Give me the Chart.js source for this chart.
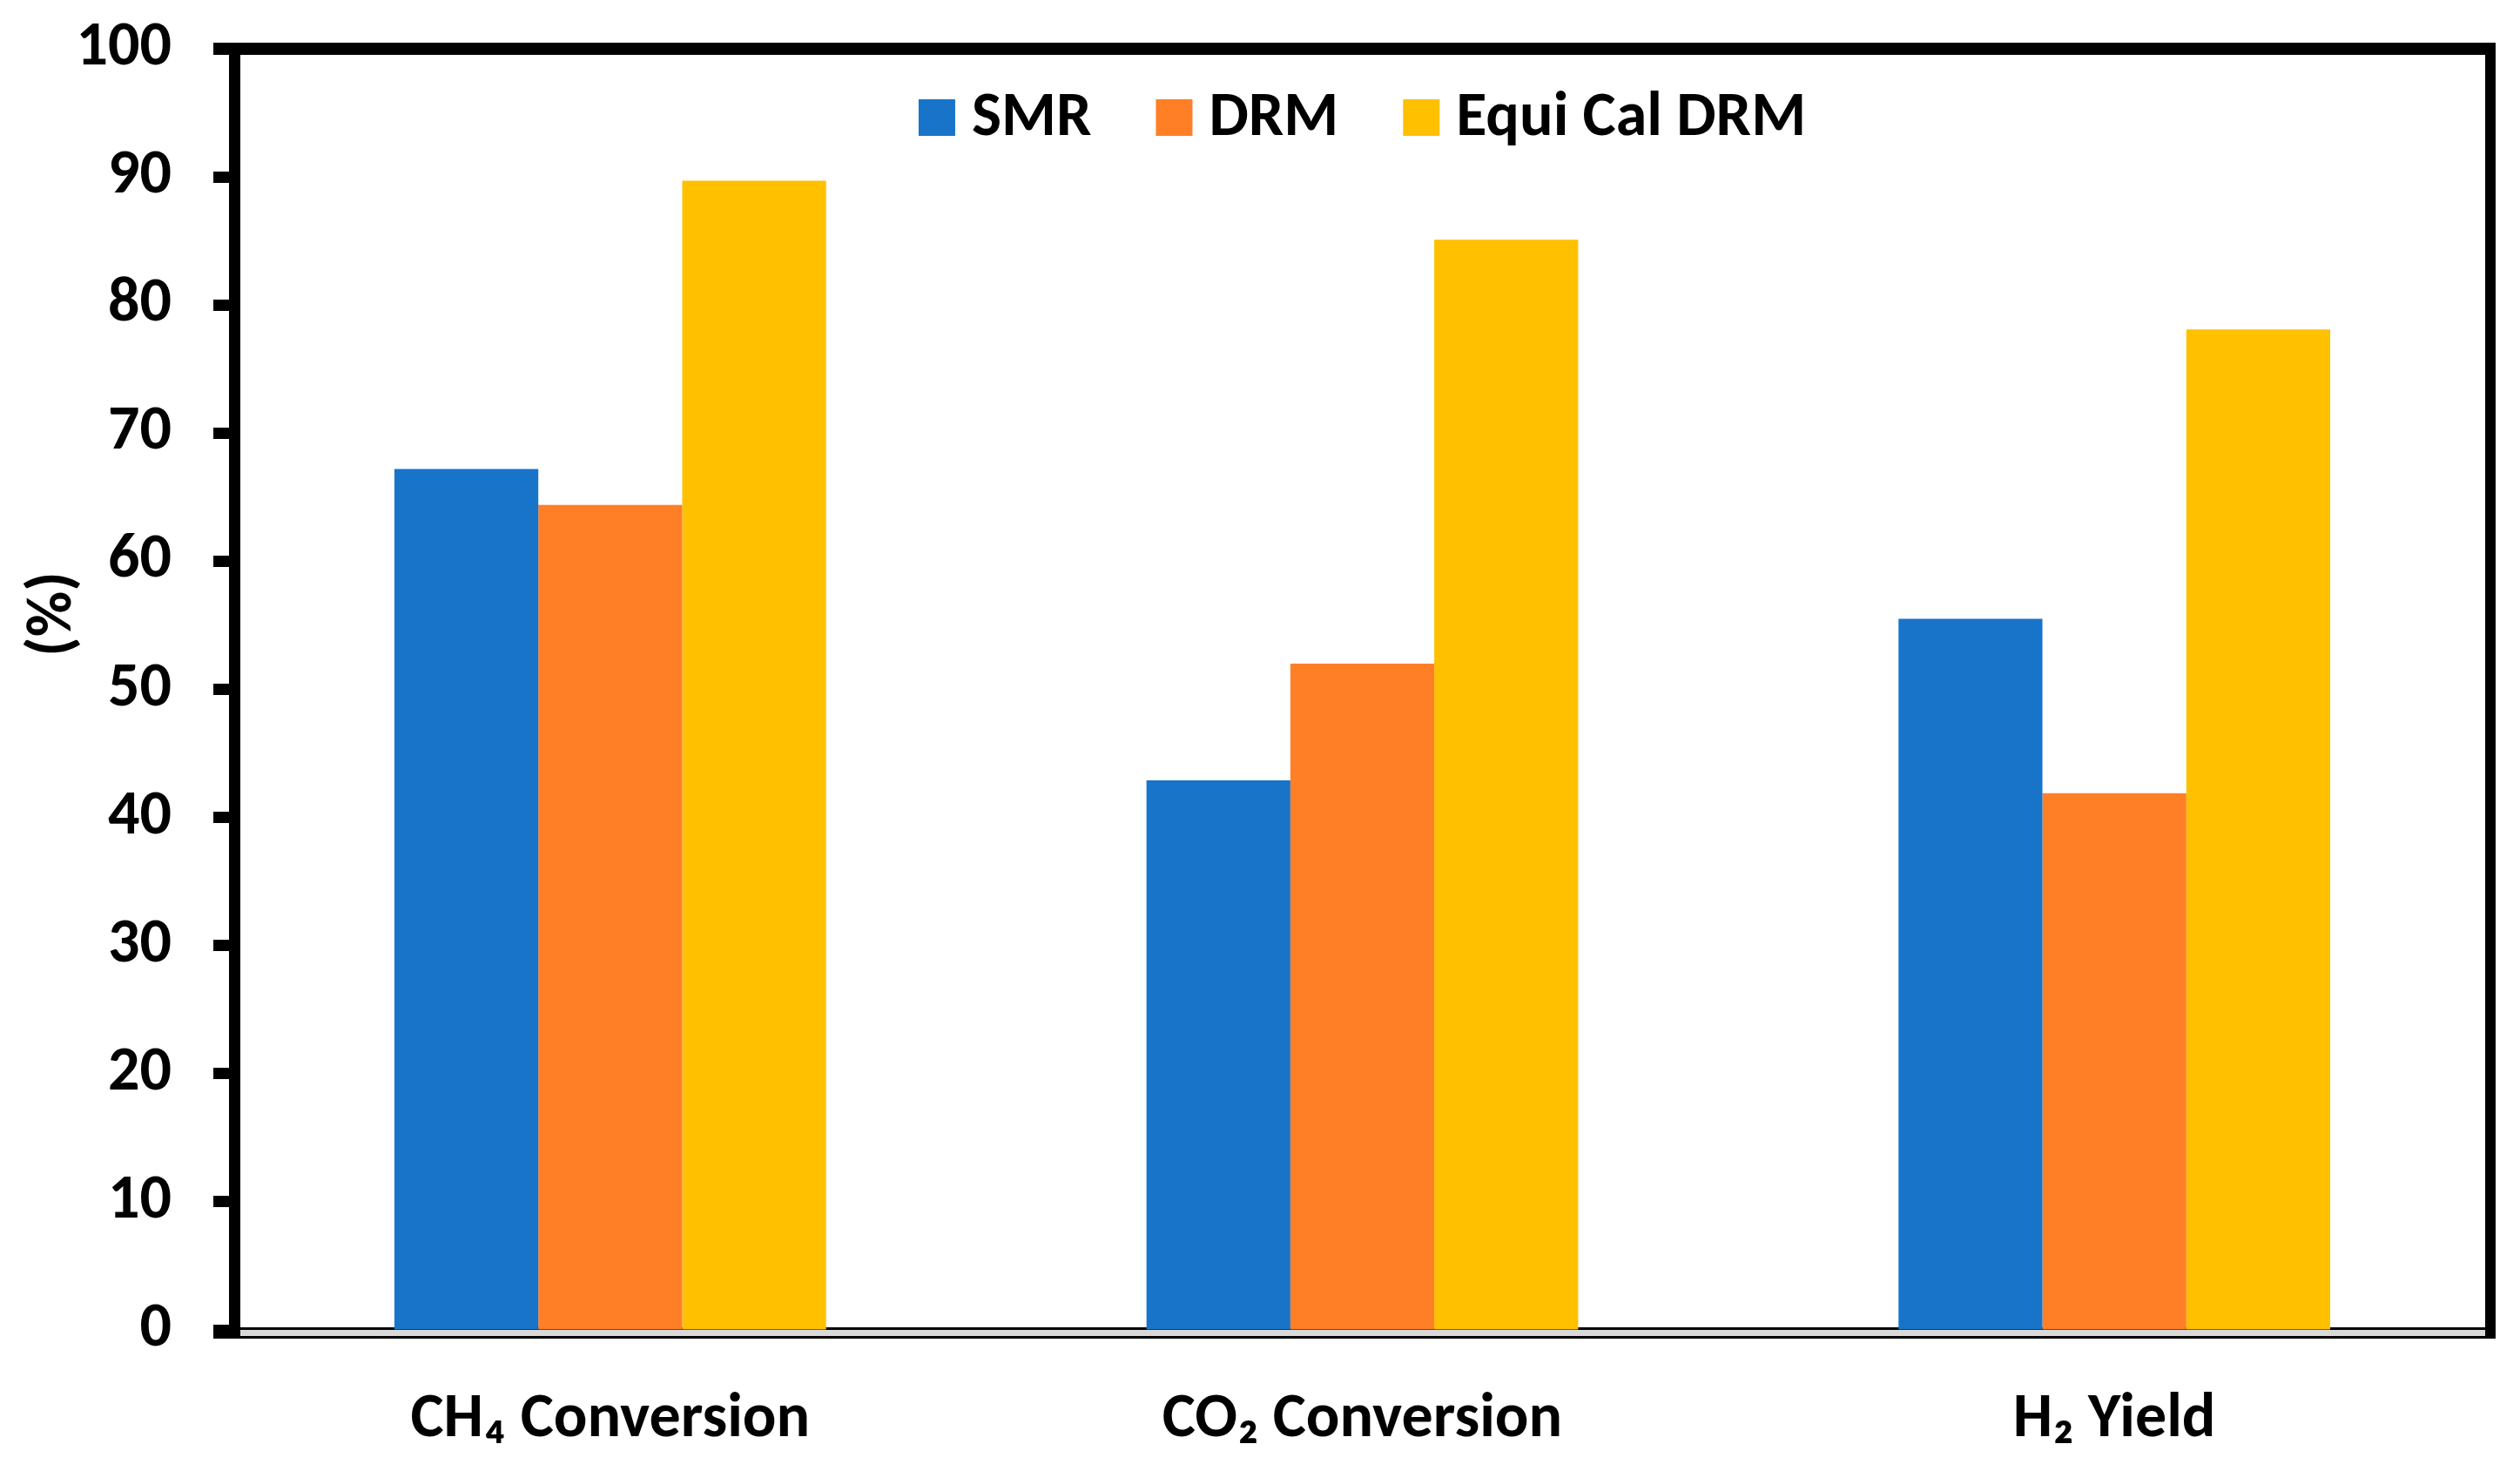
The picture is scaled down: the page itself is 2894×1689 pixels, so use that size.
<!DOCTYPE html>
<html>
<head>
<meta charset="utf-8">
<script src="https://cdn.jsdelivr.net/npm/chart.js@4.4.0/dist/chart.umd.min.js"></script>
<style>
html, body { margin: 0; padding: 0; background: #fff; }
#wrap { width: 2894px; height: 1689px; }
</style>
</head>
<body>
<div id="wrap"><canvas id="chart" width="2894" height="1689"></canvas></div>
<script>
// values
const categories = ['CH₄ Conversion', 'CO₂ Conversion', 'H₂ Yield'];
const seriesNames = ['SMR', 'DRM', 'Equi Cal DRM'];
const smr = [67.2, 42.9, 55.5];
const drm = [64.4, 52.0, 41.9];
const equiCalDrm = [89.7, 85.1, 78.1];
const yTickValues = [0, 10, 20, 30, 40, 50, 60, 70, 80, 90, 100];
const yTitle = '(%)';

const colors = ['#1874C9', '#FF7F27', '#FFC000'];
const FONT = 'Carlito, "Liberation Sans Narrow", "Open Sans", sans-serif';

// base line, top and right border like the Excel frame
const framePlugin = {
    id: 'frame',
    beforeDatasetsDraw(chart) {
        const { ctx, chartArea: a } = chart;
        ctx.save();
        ctx.fillStyle = '#000';
        ctx.fillRect(a.left - 24, a.bottom - 3, a.right - a.left + 30, 13);
        ctx.fillStyle = '#D9D9D9';
        ctx.fillRect(a.left + 7, a.bottom, a.right - a.left - 7, 7);
        ctx.restore();
    },
    afterDatasetsDraw(chart) {
        const { ctx, chartArea: a } = chart;
        ctx.save();
        ctx.fillStyle = '#000';
        ctx.fillRect(a.left - 24, a.top - 7, a.right - a.left + 30, 14);
        ctx.fillRect(a.right - 6, a.top - 7, 12, a.bottom - a.top + 17);
        ctx.restore();
    }
};

// legend sits inside the plot, centred near the top
const insideLegend = {
    id: 'insideLegend',
    afterDatasetsDraw(chart) {
        const { ctx, chartArea: a } = chart;
        const box = 42, gap = 19, spacing = 74, cy = 135;
        ctx.save();
        ctx.font = 'bold 72px ' + FONT;
        ctx.textBaseline = 'middle';
        const items = chart.data.datasets.map(ds => ({
            label: ds.label, color: ds.backgroundColor,
            w: box + gap + ctx.measureText(ds.label).width
        }));
        const total = items.reduce((s, it) => s + it.w, 0) + spacing * (items.length - 1);
        let x = (a.left + a.right) / 2 - total / 2;
        items.forEach(it => {
            ctx.fillStyle = it.color;
            ctx.fillRect(x, cy - box / 2, box, box);
            ctx.fillStyle = '#000';
            ctx.fillText(it.label, x + box + gap, cy + 2);
            x += it.w + spacing;
        });
        ctx.restore();
    }
};

const yTitlePlugin = {
    id: 'yTitle',
    afterDraw(chart) {
        const ctx = chart.ctx;
        ctx.save();
        ctx.translate(63, 705);
        ctx.rotate(-Math.PI / 2);
        ctx.font = 'bold 72px ' + FONT;
        ctx.textAlign = 'center';
        ctx.textBaseline = 'middle';
        ctx.fillStyle = '#000';
        ctx.fillText(yTitle, 0, 0);
        ctx.restore();
    }
};

const ctx = document.getElementById('chart').getContext('2d');
new Chart(ctx, {
    type: 'bar',
    data: {
        labels: categories,
        datasets: [
            { label: seriesNames[0], data: smr, backgroundColor: colors[0] },
            { label: seriesNames[1], data: drm, backgroundColor: colors[1] },
            { label: seriesNames[2], data: equiCalDrm, backgroundColor: colors[2] }
        ]
    },
    options: {
        responsive: false,
        animation: false,
        devicePixelRatio: 1,
        layout: { padding: { top: 56, right: 34, left: 0, bottom: 0 } },
        datasets: {
            bar: { barPercentage: 1, categoryPercentage: 0.574, borderWidth: 0 }
        },
        plugins: {
            legend: { display: false },
            tooltip: { enabled: false }
        },
        scales: {
            x: {
                grid: { display: false },
                border: { display: false },
                ticks: {
                    color: '#000',
                    padding: 53,
                    font: { family: FONT, size: 72, weight: 'bold' }
                },
                afterFit(scale) { scale.height = 162; }
            },
            y: {
                min: 0,
                max: 100,
                afterBuildTicks(scale) {
                    scale.ticks = yTickValues.map(v => ({ value: v }));
                },
                grid: {
                    display: true,
                    drawOnChartArea: false,
                    drawTicks: true,
                    tickLength: 24,
                    tickWidth: 13,
                    tickColor: '#000'
                },
                border: { display: true, color: '#000', width: 13 },
                ticks: {
                    color: '#000',
                    padding: 48,
                    font: { family: FONT, size: 72, weight: 'bold' }
                },
                afterFit(scale) {
                    scale.width = 269;
                    scale.paddingTop = 0;
                    scale.paddingBottom = 0;
                }
            }
        }
    },
    plugins: [framePlugin, insideLegend, yTitlePlugin]
});
</script>
</body>
</html>
